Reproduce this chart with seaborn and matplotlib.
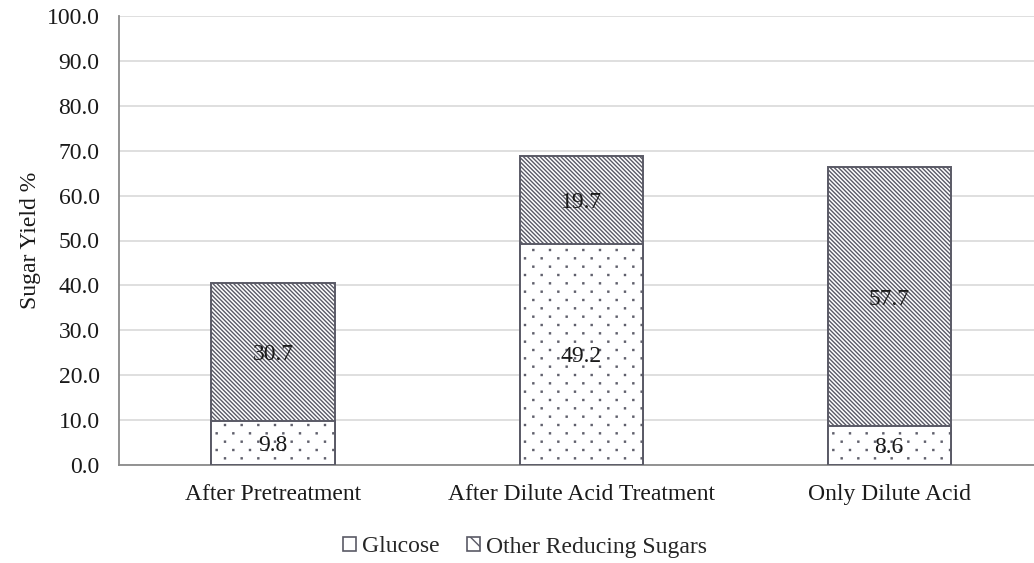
import matplotlib
matplotlib.use("Agg")
import matplotlib.pyplot as plt
import matplotlib.hatch as mhatch
from matplotlib.path import Path
import seaborn as sns
import pandas as pd
import numpy as np
from matplotlib.patches import Patch

categories = ["After Pretreatment", "After Dilute Acid Treatment", "Only Dilute Acid"]
glucose = [9.8, 49.2, 8.6]
other = [30.7, 19.7, 57.7]
yticks = [0, 10, 20, 30, 40, 50, 60, 70, 80, 90, 100]


# Staggered dot lattice hatch (replaces the default '.' pattern)
class DotLattice(mhatch.HatchPatternBase):
    def __init__(self, hatch, density):
        n = hatch.count('.')
        self.pts = []
        if n:
            nx, ny = 6 * n, 12 * n
            for r in range(ny + 1):
                y = r / ny
                if r % 2 == 0:
                    xs = np.linspace(0, 1, nx + 1)
                else:
                    xs = np.linspace(0.5 / nx, 1 - 0.5 / nx, nx)
                for x in xs:
                    self.pts.append((x, y))
        self.num_vertices = len(self.pts) * 5

    def set_vertices_and_codes(self, vertices, codes):
        s = 0.005
        for i, (x, y) in enumerate(self.pts):
            vertices[i * 5:(i + 1) * 5] = [(x - s, y - s), (x + s, y - s), (x + s, y + s),
                                           (x - s, y + s), (x - s, y - s)]
            codes[i * 5:(i + 1) * 5] = [Path.MOVETO, Path.LINETO, Path.LINETO,
                                        Path.LINETO, Path.CLOSEPOLY]


mhatch._hatch_types[:] = [t for t in mhatch._hatch_types
                          if t is not mhatch.SmallFilledCircles] + [DotLattice]

BS = chr(92)
DIAG = BS * 8
DOTS = '.'

sns.set_theme(style="white")
plt.rcParams['font.family'] = ['Liberation Serif', 'DejaVu Serif']
plt.rcParams['hatch.linewidth'] = 1.0

edge = '#5a5a66'
txt = '#1a1a1a'
FS = 17
df = pd.DataFrame({"cat": categories, "glucose": glucose, "other": other})
df["total"] = df["glucose"] + df["other"]

fig = plt.figure(figsize=(10.34, 5.63), dpi=100)
ax = fig.add_axes([119/1034, 98/563, (1034-119)/1034, 449/563])

n = len(categories)
sns.barplot(data=df, x="cat", y="total", ax=ax, color='white', width=0.4,
            edgecolor=edge, linewidth=1.4, hatch=DIAG, zorder=3)
sns.barplot(data=df, x="cat", y="glucose", ax=ax, color='white', width=0.4,
            edgecolor=edge, linewidth=1.4, zorder=3)
for p in ax.patches[:n]:
    p.set_facecolor('white')
for p in ax.patches[n:2*n]:
    p.set_hatch(DOTS)
    p.set_facecolor('white')

for i in range(n):
    for yc, v in [(glucose[i] / 2, glucose[i]), (glucose[i] + other[i] / 2, other[i])]:
        ax.annotate(f"{v:.1f}", xy=(i, yc), xytext=(0, -5.6), textcoords='offset points',
                    ha='center', va='baseline', fontsize=FS, color=txt, zorder=5)

ax.set_xlim(-0.5, 2.47)
ax.set_ylim(0, 100)
ax.set_yticks(yticks)
ax.set_yticklabels([f"{v:.1f}" for v in yticks], fontsize=FS, color=txt)
ax.set_xticks(range(n))
ax.set_xticklabels(categories, fontsize=FS, color=txt)
ax.tick_params(axis='y', length=0, pad=14)
ax.tick_params(axis='x', length=0, pad=14)
ax.set_xlabel("")
ax.set_ylabel("Sugar Yield %", fontsize=FS, color=txt, labelpad=4)
ax.yaxis.grid(True, color='#dcdcdc', linewidth=1.3, zorder=0)
ax.set_axisbelow(True)
for s in ['top', 'right']:
    ax.spines[s].set_visible(False)
for s in ['left', 'bottom']:
    ax.spines[s].set_color('#8a8a8a')
    ax.spines[s].set_linewidth(1.3)

handles = [Patch(facecolor='white', edgecolor=edge, linewidth=1.2),
           Patch(facecolor='white', edgecolor=edge, hatch=BS * 2, linewidth=1.2)]
fig.legend(handles, ["Glucose", "Other Reducing Sugars"], loc='center',
           bbox_to_anchor=(525/1034, 1 - 547/563), ncol=2, frameon=False,
           fontsize=FS, handlelength=0.55, handleheight=0.55, handletextpad=0.25,
           columnspacing=1.2, borderpad=0.1)

fig.savefig("out.png", dpi=100)
